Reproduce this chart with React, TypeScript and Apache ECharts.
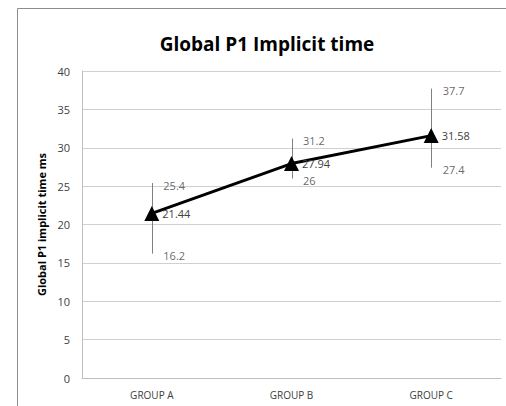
import React, { useEffect, useRef } from "react";
import * as echarts from "echarts";

const categories = ["GROUP A", "GROUP B", "GROUP C"];
const means = [21.44, 27.94, 31.58];
const highs = [25.4, 31.2, 37.7];
const lows = [16.2, 26, 27.4];
const yTicks = { min: 0, max: 40, interval: 5 };

const FONT = "'Open Sans', 'Liberation Sans', sans-serif";
const LABEL_COLOR = "#404040";

export default function App() {
  const ref = useRef<HTMLDivElement>(null);
  useEffect(() => {
    if (!ref.current) return;
    const chart = echarts.init(ref.current, undefined, { renderer: "svg" });
    chart.setOption({
      animation: false,
      backgroundColor: "#ffffff",
      title: {
        text: "Global P1 Implicit time",
        left: 262,
        textAlign: "center",
        top: 29,
        textStyle: { fontFamily: FONT, fontSize: 19, fontWeight: "bold", color: "#000" },
      },
      grid: { left: 82, right: 5, top: 71, bottom: 28 },
      xAxis: {
        type: "category",
        data: categories,
        boundaryGap: true,
        axisLine: { show: true, lineStyle: { color: "#bfbfbf", width: 1 } },
        axisTick: { show: false },
        axisLabel: { fontFamily: FONT, fontSize: 10, color: LABEL_COLOR, margin: 12 },
      },
      yAxis: {
        type: "value",
        min: yTicks.min,
        max: yTicks.max,
        interval: yTicks.interval,
        name: "Global P1 implicit time ms",
        nameLocation: "middle",
        nameGap: 35,
        nameTextStyle: { fontFamily: FONT, fontSize: 11, fontWeight: "bold", color: "#000" },
        axisLine: { show: true, lineStyle: { color: "#bfbfbf", width: 1 } },
        axisTick: { show: false },
        axisLabel: { fontFamily: FONT, fontSize: 11, color: LABEL_COLOR, margin: 12 },
        splitLine: { show: true, lineStyle: { color: "#d0d0d0", width: 1 } },
      },
      graphic: [
        {
          type: "line",
          shape: { x1: 17.5, y1: 8.5, x2: 506, y2: 8.5 },
          style: { stroke: "#8c8c8c", lineWidth: 1 },
          silent: true,
        },
        {
          type: "line",
          shape: { x1: 17.5, y1: 8.5, x2: 17.5, y2: 406 },
          style: { stroke: "#8c8c8c", lineWidth: 1 },
          silent: true,
        },
      ],
      series: [
        {
          type: "custom",
          z: 1,
          data: categories.map((_, i) => [i, lows[i], highs[i]]),
          renderItem: (_params: any, api: any) => {
            const lo = api.coord([api.value(0), api.value(1)]);
            const hi = api.coord([api.value(0), api.value(2)]);
            return {
              type: "line",
              shape: { x1: Math.round(lo[0]) + 0.5, y1: lo[1], x2: Math.round(hi[0]) + 0.5, y2: hi[1] },
              style: { stroke: "#808080", lineWidth: 1 },
            };
          },
        },
        {
          type: "line",
          z: 3,
          data: means,
          symbol: "triangle",
          symbolSize: 15,
          itemStyle: { color: "#000" },
          lineStyle: { color: "#000", width: 3 },
          label: {
            show: true,
            position: "right",
            distance: 3,
            fontFamily: FONT,
            fontSize: 11,
            color: LABEL_COLOR,
          },
        },
        {
          type: "scatter",
          z: 2,
          data: highs,
          symbol: "circle",
          symbolSize: 1,
          itemStyle: { color: "rgba(0,0,0,0)" },
          label: {
            show: true,
            position: "right",
            distance: 11,
            offset: [0, 2],
            fontFamily: FONT,
            fontSize: 11,
            color: LABEL_COLOR,
          },
        },
        {
          type: "scatter",
          z: 2,
          data: lows,
          symbol: "circle",
          symbolSize: 1,
          itemStyle: { color: "rgba(0,0,0,0)" },
          label: {
            show: true,
            position: "right",
            distance: 11,
            offset: [0, 2],
            fontFamily: FONT,
            fontSize: 11,
            color: LABEL_COLOR,
          },
        },
      ],
    });
    return () => chart.dispose();
  }, []);
  return (
    <div
      ref={ref}
      style={{ position: "absolute", left: 0, top: 0, width: 506, height: 406 }}
    />
  );
}
